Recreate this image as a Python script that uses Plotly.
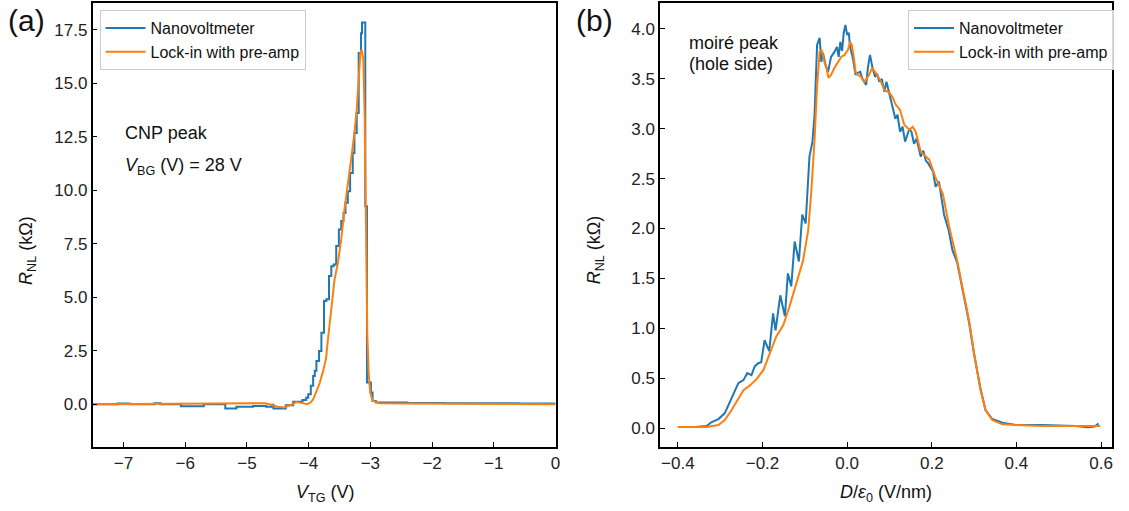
import plotly.graph_objects as go

# ---------------- data: panel (a) ----------------
a_nv_x = [-7.5, -7.1, -6.9, -6.5, -6.4, -6.07, -5.70, -5.35, -5.17, -4.90, -4.69, -4.60, -4.57,
          -4.37, -4.25, -4.10, -4.04, -4.007, -3.965, -3.927, -3.900, -3.874, -3.831, -3.793,
          -3.751, -3.713, -3.670, -3.633, -3.595, -3.553, -3.510, -3.472, -3.435, -3.403,
          -3.365, -3.328, -3.285, -3.258, -3.221, -3.189, -3.151, -3.135, -3.082, -3.055,
          -2.991, -2.964, -2.911, -2.4, -1.8, -1.2, -0.6, 0.0]
a_nv_y = [0.0, 0.03, 0.0, 0.05, 0.0, -0.1, 0.0, -0.2, -0.12, -0.08, -0.12, -0.02, -0.2,
          -0.05, 0.12, 0.2, 0.3, 0.47, 0.86, 1.32, 1.56, 2.02, 2.49, 3.34,
          4.82, 4.90, 5.99, 6.45, 6.53, 7.39, 8.17, 8.56, 8.94, 9.41,
          9.95, 10.81, 11.74, 12.68, 13.61, 16.41, 17.34, 17.84, 9.25, 1.01,
          0.55, 0.15, 0.08, 0.06, 0.05, 0.04, 0.03, 0.03]

a_li_x = [-7.5, -7.0, -6.5, -6.0, -5.5, -5.0, -4.7, -4.5, -4.4, -4.3, -4.2, -4.1, -4.02,
          -3.96, -3.927, -3.874, -3.82, -3.77, -3.72, -3.687, -3.633, -3.58, -3.526, -3.472,
          -3.419, -3.366, -3.312, -3.258, -3.221, -3.189, -3.162, -3.141, -3.114, -3.092,
          -3.071, -3.050, -3.028, -3.002, -2.964, -2.857, -2.5, -2.0, -1.5, -1.0, -0.5, 0.0]
a_li_y = [0.0, 0.0, 0.02, 0.0, 0.03, 0.05, 0.04, -0.12, -0.15, -0.05, 0.1, 0.05, 0.0,
          0.1, 0.23, 0.6, 1.0, 1.5, 2.1, 3.03, 4.43, 5.83, 6.61, 7.70,
          9.10, 10.19, 11.43, 12.68, 13.77, 15.17, 16.41, 16.57, 16.10, 13.45,
          8.01, 3.34, 1.48, 0.54, 0.16, 0.05, 0.03, 0.03, 0.02, 0.02, 0.01, 0.0]

# ---------------- data: panel (b) ----------------
b_nv_x = [-0.40, -0.36, -0.332, -0.32, -0.304, -0.289, -0.273, -0.257, -0.245, -0.236, -0.226,
          -0.218, -0.210, -0.203, -0.195, -0.184, -0.175, -0.169, -0.158, -0.147, -0.140,
          -0.132, -0.124, -0.114, -0.106, -0.098, -0.089, -0.082, -0.077, -0.071, -0.065,
          -0.061, -0.057, -0.051, -0.045, -0.038, -0.030, -0.024, -0.020, -0.016, -0.012,
          -0.008, -0.004, 0.000, 0.004, 0.007, 0.013, 0.020, 0.025, 0.031, 0.037, 0.045,
          0.049, 0.054, 0.060, 0.066, 0.071, 0.076, 0.082, 0.088, 0.093, 0.100, 0.108,
          0.114, 0.119, 0.125, 0.131, 0.137, 0.147, 0.152, 0.158, 0.164, 0.174, 0.180,
          0.186, 0.192, 0.203, 0.209, 0.217, 0.229, 0.240, 0.249, 0.260, 0.272, 0.288,
          0.300, 0.315, 0.327, 0.343, 0.367, 0.398, 0.46, 0.50, 0.539, 0.569, 0.585, 0.594]
b_nv_y = [0.01, 0.01, 0.02, 0.06, 0.09, 0.15, 0.30, 0.45, 0.48, 0.55, 0.53,
          0.62, 0.65, 0.66, 0.88, 0.77, 1.15, 0.98, 1.33, 1.12, 1.55,
          1.42, 1.87, 1.67, 2.14, 2.05, 2.72, 2.87, 3.14, 3.84, 3.91,
          3.67, 3.76, 3.64, 3.57, 3.72, 3.77, 3.82, 3.72, 3.87, 3.78,
          3.96, 4.04, 3.94, 3.96, 3.82, 3.72, 3.54, 3.56, 3.57, 3.49, 3.44,
          3.61, 3.74, 3.61, 3.52, 3.55, 3.47, 3.50, 3.37, 3.47, 3.34, 3.22,
          3.10, 3.14, 2.97, 3.02, 2.87, 3.00, 2.97, 2.85, 2.90, 2.72, 2.78,
          2.68, 2.65, 2.57, 2.42, 2.47, 2.14, 1.98, 1.78, 1.66, 1.40, 1.06,
          0.74, 0.40, 0.18, 0.09, 0.053, 0.03, 0.03, 0.025, 0.02, 0.007, 0.015, 0.045]

b_li_x = [-0.40, -0.332, -0.304, -0.289, -0.273, -0.257, -0.245, -0.229, -0.214, -0.198,
          -0.183, -0.167, -0.151, -0.136, -0.120, -0.104, -0.092, -0.085, -0.077, -0.071,
          -0.065, -0.060, -0.053, -0.049, -0.044, -0.038, -0.030, -0.022, -0.014, -0.006,
          0.002, 0.007, 0.011, 0.015, 0.020, 0.025, 0.033, 0.041, 0.046, 0.052, 0.059,
          0.065, 0.071, 0.080, 0.088, 0.100, 0.108, 0.115, 0.125, 0.135, 0.147, 0.155,
          0.162, 0.174, 0.194, 0.208, 0.226, 0.241, 0.260, 0.272, 0.288, 0.300, 0.315,
          0.327, 0.343, 0.367, 0.398, 0.46, 0.539, 0.598]
b_li_y = [0.01, 0.01, 0.03, 0.08, 0.18, 0.30, 0.38, 0.43, 0.49, 0.58,
          0.75, 0.92, 1.03, 1.22, 1.45, 1.68, 1.98, 2.35, 2.89, 3.42,
          3.77, 3.79, 3.66, 3.61, 3.51, 3.54, 3.61, 3.67, 3.72, 3.74,
          3.79, 3.87, 3.84, 3.74, 3.57, 3.54, 3.52, 3.47, 3.50, 3.54, 3.61,
          3.58, 3.54, 3.47, 3.39, 3.36, 3.31, 3.24, 3.19, 3.04, 2.99, 3.02,
          2.97, 2.77, 2.69, 2.52, 2.35, 2.02, 1.68, 1.42, 1.08, 0.75, 0.38,
          0.18, 0.08, 0.037, 0.03, 0.02, 0.02, 0.02]

series_names = ["Nanovoltmeter", "Lock-in with pre-amp"]
a_xticks = [-7, -6, -5, -4, -3, -2, -1, 0]
a_yticks = [0, 2.5, 5, 7.5, 10, 12.5, 15, 17.5]
b_xticks = [-0.4, -0.2, 0.0, 0.2, 0.4, 0.6]
b_yticks = [0, 0.5, 1.0, 1.5, 2.0, 2.5, 3.0, 3.5, 4.0]

BLUE = "#1f77b4"
ORANGE = "#ff7f0e"
FONT = "Liberation Sans, Arial, sans-serif"
W, H = 1129, 511

fig = go.Figure()
fig.add_trace(go.Scatter(x=a_nv_x, y=a_nv_y, mode="lines", line=dict(color=BLUE, width=2, shape="hv"),
                         name=series_names[0], xaxis="x", yaxis="y", legend="legend"))
fig.add_trace(go.Scatter(x=a_li_x, y=a_li_y, mode="lines", line=dict(color=ORANGE, width=2),
                         name=series_names[1], xaxis="x", yaxis="y", legend="legend"))
fig.add_trace(go.Scatter(x=b_nv_x, y=b_nv_y, mode="lines", line=dict(color=BLUE, width=2),
                         name=series_names[0], xaxis="x2", yaxis="y2", legend="legend2"))
fig.add_trace(go.Scatter(x=b_li_x, y=b_li_y, mode="lines", line=dict(color=ORANGE, width=2),
                         name=series_names[1], xaxis="x2", yaxis="y2", legend="legend2"))

ydom = [1 - 447 / H, 1 - 3 / H]
axis_common = dict(showgrid=False, zeroline=False, showline=True, linecolor="black", linewidth=1.5,
                   mirror=True, ticks="inside", ticklen=5, tickwidth=1.3, tickcolor="black",
                   tickfont=dict(family=FONT, size=17, color="#222"))

legend_common = dict(font=dict(family=FONT, size=16, color="#111"), bgcolor="rgba(255,255,255,0.85)",
                     bordercolor="#cccccc", borderwidth=1, xanchor="left", yanchor="top",
                     tracegroupgap=0, itemwidth=40)

fig.update_layout(
    width=W, height=H, margin=dict(l=0, r=0, t=0, b=0),
    paper_bgcolor="white", plot_bgcolor="white",
    xaxis=dict(domain=[93 / W, 558 / W], range=[-7.5, 0], tickvals=a_xticks, anchor="y", **axis_common),
    yaxis=dict(domain=ydom, range=[-2, 18.75], tickvals=a_yticks, tickformat=".1f", anchor="x", **axis_common),
    xaxis2=dict(domain=[663 / W, 1117 / W], range=[-0.442, 0.626], tickvals=b_xticks, tickformat=".1f",
                anchor="y2", **axis_common),
    yaxis2=dict(domain=ydom, range=[-0.19, 4.26], tickvals=b_yticks, tickformat=".1f", anchor="x2", **axis_common),
    legend=dict(x=100 / W, y=1 - 10 / H, **legend_common),
    legend2=dict(x=912 / W, y=1 - 10 / H, **legend_common),
    showlegend=True,
)

def ann(text, x, y, size=18, angle=0, xanchor="center", yanchor="middle"):
    fig.add_annotation(text=text, x=x / W, y=1 - y / H, xref="paper", yref="paper", showarrow=False,
                       font=dict(family=FONT, size=size, color="#111"), textangle=angle,
                       xanchor=xanchor, yanchor=yanchor)

ann("(a)", 27, 20, size=30)
ann("(b)", 597, 20, size=30)
ann("<i>R</i><sub>NL</sub> (kΩ)", 27, 250, angle=-90)
ann("<i>R</i><sub>NL</sub> (kΩ)", 598, 250, angle=-90)
ann("<i>V</i><sub>TG</sub> (V)", 327, 493)
ann("<i>D</i>/<i>ε</i><sub>0</sub> (V/nm)", 890, 493)
ann("CNP peak", 124, 133, xanchor="left")
ann("<i>V</i><sub>BG</sub> (V) = 28 V", 124, 166, xanchor="left")
ann("moiré peak", 690, 43, xanchor="left")
ann("(hole side)", 690, 64, xanchor="left")

fig.write_html("out.html")
